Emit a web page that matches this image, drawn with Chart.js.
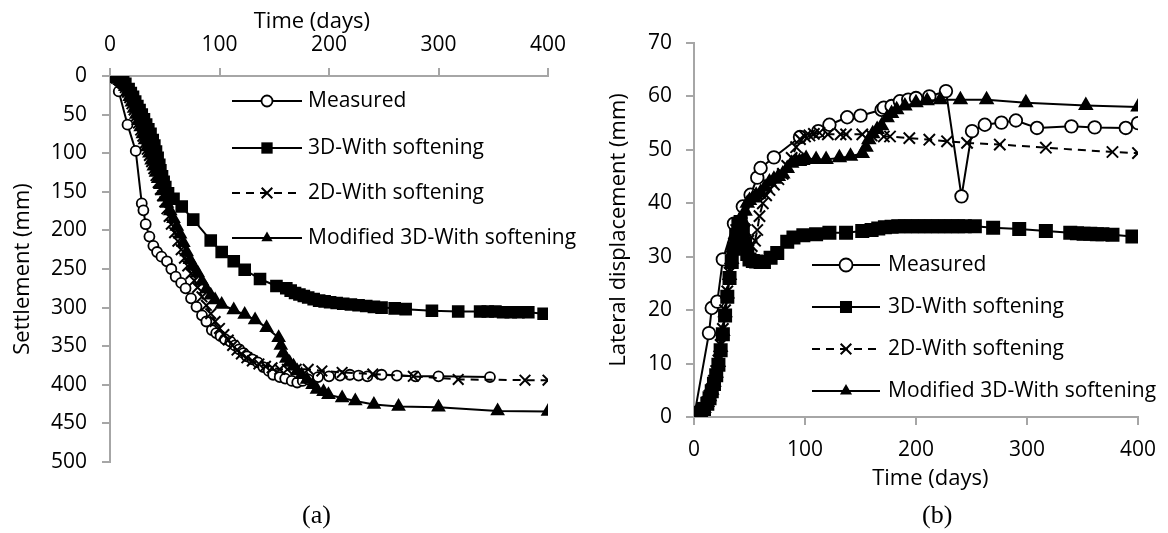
<!DOCTYPE html>
<html lang="en">
<head>
<meta charset="UTF-8">
<title>Settlement and lateral displacement</title>
<style>
  body { margin: 0; background: #fff; }
  .wrap { position: relative; width: 1168px; height: 533px; }
  .box { position: absolute; top: 0; width: 584px; height: 533px; }
  .cap { position: absolute; font-family: "Liberation Serif", serif; font-size: 26px; line-height: 1; color: #000; }
</style>
</head>
<body>
<div class="wrap">
  <div class="box" style="left:0"><canvas id="chartA"></canvas></div>
  <div class="box" style="left:584px"><canvas id="chartB"></canvas></div>
  <div class="cap" style="left:302px;top:502px">(a)</div>
  <div class="cap" style="left:922px;top:502px">(b)</div>
</div>
<script src="https://cdn.jsdelivr.net/npm/chart.js"></script>
<script>
const seriesNames = ['Measured', '3D-With softening', '2D-With softening', 'Modified 3D-With softening']

// (a) settlement (mm) vs time (days)
const tMeasA = [0, 3, 8, 16, 23.5, 29, 30.5, 32.6, 36, 39.6, 43, 47, 52, 56, 60, 65, 69, 74, 79, 84, 88, 93, 97, 101, 105, 110, 114, 118, 122, 125, 130, 135, 140, 145, 149, 155, 160, 166, 171, 176, 181, 190, 200, 210, 219, 227, 235, 248, 262, 279, 300, 347]
const sMeasA = [0, 2, 20, 63, 97, 165, 174, 192, 208, 220, 228, 234, 240, 250, 260, 268, 275, 288, 299, 310, 318, 329, 333, 337, 341, 344, 349, 354, 359, 363, 367, 371, 377, 382, 387, 390, 392, 395, 397, 395, 393, 390, 389, 388, 387, 388, 389, 387, 388, 389, 389, 390]

const t3dA = [0, 3, 6, 9, 12, 14, 17, 19, 21, 23, 25, 27, 29, 31, 33, 35, 37, 39, 40.5, 42, 43.5, 45, 46, 47.5, 49, 50.5, 53, 58, 65.5, 76, 92, 102, 113, 123, 137, 152, 161, 165, 169, 173, 177, 181, 186, 191, 196, 201, 207, 213, 220, 227, 234, 241, 248, 260, 270, 294, 318, 338, 345, 352, 359, 366, 373, 382, 396]
const s3dA = [0, 0, 1, 3, 6, 10, 17, 22, 27, 33, 39, 44, 50, 56, 63, 69, 75, 83, 90, 98, 106, 115, 122, 130, 137, 144, 152, 159, 169, 186, 213, 228, 240, 251, 263, 272, 275, 278, 281, 283, 285, 287, 289, 291, 292, 293, 294, 295, 296, 297, 298, 299, 300, 301, 302, 304, 305, 305, 305, 305, 306, 306, 306, 306, 308]

const t2dA = [0, 3, 6, 9, 12, 14, 16, 18, 20, 22, 24, 26, 28, 30, 32, 34, 36, 38, 40, 42, 44, 46, 48, 50, 52, 54, 56, 59, 62, 65, 68, 71, 74, 77, 80, 84, 88, 92, 96, 100, 104, 108, 112, 116, 120, 125, 130, 136, 142, 148, 155, 162, 170, 181, 193.5, 212, 240, 277, 318, 379, 400]
const s2dA = [0, 1, 3, 6, 10, 15, 21, 28, 36, 44, 52, 61, 70, 78, 87, 95, 103, 111, 120, 129, 138, 147, 155, 163, 172, 182, 192, 203, 214, 225, 236, 246, 256, 265, 274, 286, 297, 308, 318, 327, 335, 342, 349, 355, 360, 365, 369, 373, 376, 378, 380, 380, 380, 380, 382, 384, 386, 389, 393, 394, 394]

const tModA = [0, 3, 6, 9, 12, 14, 16, 18, 20, 22, 24, 26, 28, 30, 32, 34, 36, 38, 40, 42, 44, 46, 48, 50, 52, 55, 58, 61, 64, 67, 70, 73, 76, 80, 84, 88, 92, 96, 102, 113, 123, 132.5, 143, 154, 156, 158, 161, 164, 167.6, 171, 175, 180, 185, 189, 195, 199.5, 212, 224, 241, 263.5, 300, 354, 400]
const sModA = [0, 1, 3, 6, 10, 14, 20, 27, 34, 42, 50, 58, 66, 75, 83, 92, 100, 109, 117, 125, 133, 141, 149, 157, 165, 175, 185, 195, 205, 216, 228, 238, 246, 255, 266, 276, 284, 290, 296, 303, 309, 316, 326, 339, 349, 359, 366, 371, 376, 382, 387, 393, 400, 406, 409, 413, 417, 421, 425.6, 428, 429, 434, 434.5]

// (b) lateral displacement (mm) vs time (days)
const tMeasB = [0, 13.5, 16, 21, 26, 36, 44, 51, 57, 60, 72, 95.5, 112, 122, 138, 150, 169, 171, 178, 185.5, 193, 200, 212, 227, 241, 250.5, 262, 277, 290, 309, 340, 361, 389, 400]
const dMeasB = [0, 15.7, 20.4, 21.6, 29.5, 36.2, 39.4, 41.6, 44.8, 46.6, 48.6, 52.4, 53.5, 54.7, 56.1, 56.4, 57.5, 57.9, 58.2, 59.1, 59.4, 59.7, 60, 61, 41.3, 53.5, 54.7, 55.1, 55.5, 54.1, 54.4, 54.2, 54.1, 55]

const t3dB = [0, 3, 6, 9, 12, 14, 16, 18, 20, 22, 24, 26, 28, 30, 32, 34, 36, 38, 40, 42, 44, 46, 48, 50, 53, 56, 60, 63, 69, 75, 84, 89.6, 98.5, 110, 122, 137, 151.6, 160, 166, 172, 178, 184, 190, 196, 202, 208, 214, 220, 226, 232, 238, 244, 253, 269.5, 293, 317, 339, 345, 351, 357, 363, 368, 377, 395]
const d3dB = [0, 0.3, 0.8, 1.5, 2.5, 3.5, 4.8, 6.2, 7.8, 9.8, 12.5, 15.5, 19, 22.5, 26, 29, 31.5, 34, 36, 36.5, 35, 32.5, 30.5, 29.5, 29.2, 29.1, 29, 29, 29.8, 30.7, 32.8, 33.6, 34, 34.2, 34.5, 34.5, 34.8, 35, 35.3, 35.5, 35.6, 35.7, 35.7, 35.7, 35.7, 35.7, 35.7, 35.7, 35.7, 35.7, 35.7, 35.7, 35.7, 35.4, 35.2, 34.8, 34.5, 34.4, 34.3, 34.3, 34.2, 34.2, 34.1, 33.8]

const t2dB = [0, 3, 6, 9, 12, 14, 16, 18, 20, 22, 24, 26, 28, 30, 32, 34, 36, 38, 40, 43, 46, 49, 52, 55, 57, 59, 62, 65, 68, 72, 76, 80, 84, 88, 92, 95.5, 100, 104, 108, 113, 120.6, 132, 137, 151.6, 160, 171, 176.6, 194, 212, 228, 246, 275.5, 317, 377, 400]
const d2dB = [0, 0.3, 0.9, 1.7, 2.8, 4, 5.2, 6.8, 8.6, 10.6, 13.5, 16.5, 20, 23.5, 27, 30, 32.5, 35, 36.3, 36.3, 35, 33, 32, 33, 35, 37.6, 40, 41.5, 42.5, 43.5, 44.5, 45.5, 47, 48.5, 50.5, 52, 52.5, 52.7, 53, 53.2, 52.9, 52.9, 52.9, 52.9, 52.7, 52.5, 52.5, 52.2, 51.9, 51.6, 51.3, 51, 50.4, 49.6, 49.4]

const tModB = [0, 3, 6, 9, 12, 14, 16, 18, 20, 22, 24, 26, 28, 30, 32, 34, 36, 38, 40, 43, 46, 48, 50, 53, 56, 60, 64, 68, 72, 76, 80, 84, 88, 92, 95, 98, 101, 110, 119, 131, 141, 151.6, 155, 157.5, 161, 165, 169, 174, 178, 182.6, 190, 200, 210, 222, 240, 263.6, 299, 353, 400]
const dModB = [0, 0.3, 0.8, 1.6, 2.7, 3.8, 5, 6.5, 8.2, 10.2, 13, 16, 19.5, 23, 26.5, 29.5, 32, 34.5, 36, 37, 38.5, 40, 40.5, 41, 41.5, 42, 43, 44, 44.5, 45, 45.5, 46.5, 47.5, 47.8, 47.8, 48, 48.4, 48.2, 48.2, 48.5, 48.8, 49.3, 50.5, 51.9, 53, 53.8, 54.5, 56, 56.8, 57.5, 58.2, 58.8, 59.2, 59.4, 59.4, 59.4, 58.8, 58.3, 58]

const timeTicks = [0, 100, 200, 300, 400]

Chart.defaults.font.family = "'Open Sans', sans-serif"
Chart.defaults.font.size = 21
Chart.defaults.color = '#000'

const axisGrey = '#a6a6a6'

function pts(xs, ys) {
  return xs.map((x, i) => ({ x: x, y: ys[i] }))
}

// marker styles, one per series: circle / square / cross / triangle
function makeSets(series, sizes) {
  const styles = [
    { pointStyle: 'circle', pointBackgroundColor: '#fff', borderDash: [] },
    { pointStyle: 'rect', pointBackgroundColor: '#000', borderDash: [] },
    { pointStyle: 'crossRot', pointBackgroundColor: '#000', borderDash: [8, 6] },
    { pointStyle: 'triangle', pointBackgroundColor: '#000', borderDash: [] }
  ]
  return series.map((s, i) => ({
    label: seriesNames[i],
    data: pts(s[0], s[1]),
    showLine: true,
    borderColor: '#000',
    borderWidth: 2,
    borderDash: styles[i].borderDash,
    pointStyle: styles[i].pointStyle,
    pointBackgroundColor: styles[i].pointBackgroundColor,
    pointBorderColor: '#000',
    pointBorderWidth: i === 0 ? 1.8 : 2,
    pointRadius: sizes[i],
    tension: 0,
    order: 3 - i
  }))
}

function drawMarker(ctx, style, x, y, r, fill) {
  ctx.beginPath()
  if (style === 'circle') {
    ctx.arc(x, y, r, 0, Math.PI * 2)
    ctx.fillStyle = fill
    ctx.fill()
    ctx.lineWidth = 1.8
    ctx.stroke()
  } else if (style === 'rect') {
    const h = r * Math.SQRT1_2
    ctx.fillStyle = fill
    ctx.fillRect(x - h, y - h, 2 * h, 2 * h)
  } else if (style === 'triangle') {
    for (let k = 0; k < 3; k++) {
      const a = -Math.PI / 2 + k * 2 * Math.PI / 3
      const px = x + Math.cos(a) * r, py = y + Math.sin(a) * r
      if (k === 0) ctx.moveTo(px, py); else ctx.lineTo(px, py)
    }
    ctx.closePath()
    ctx.fillStyle = fill
    ctx.fill()
  } else if (style === 'crossRot') {
    const h = r * Math.SQRT1_2
    ctx.lineWidth = 2
    ctx.moveTo(x - h, y - h); ctx.lineTo(x + h, y + h)
    ctx.moveTo(x - h, y + h); ctx.lineTo(x + h, y - h)
    ctx.stroke()
  }
}

// legend drawn inside the plot, like the original figure
const insideLegend = {
  id: 'insideLegend',
  afterDraw(chart, args, opts) {
    const ctx = chart.ctx
    ctx.save()
    chart.data.datasets.forEach((ds, i) => {
      const y = opts.rows[i]
      ctx.strokeStyle = '#000'
      ctx.lineWidth = 2
      ctx.setLineDash(ds.borderDash)
      ctx.beginPath()
      ctx.moveTo(opts.x0, y)
      ctx.lineTo(opts.x1, y)
      ctx.stroke()
      ctx.setLineDash([])
      drawMarker(ctx, ds.pointStyle, (opts.x0 + opts.x1) / 2, y, opts.sizes[i], ds.pointBackgroundColor)
      ctx.fillStyle = '#000'
      ctx.font = "21px 'Open Sans', sans-serif"
      ctx.textBaseline = 'middle'
      ctx.textAlign = 'left'
      ctx.fillText(ds.label, opts.textX, y)
    })
    ctx.restore()
  }
}

function axisBase(extra) {
  return Object.assign({
    type: 'linear',
    grid: { drawOnChartArea: false, tickLength: 8, color: axisGrey, lineWidth: 2 },
    border: { color: axisGrey, width: 2 }
  }, extra)
}

// chart (a)
new Chart(document.getElementById('chartA'), {
  type: 'scatter',
  data: {
    datasets: makeSets([[tMeasA, sMeasA], [t3dA, s3dA], [t2dA, s2dA], [tModA, sModA]], [5, 7.5, 7.5, 6.5])
  },
  options: {
    responsive: true,
    maintainAspectRatio: false,
    animation: false,
    events: [],
    layout: { padding: { top: 0, right: 36, bottom: 71, left: 0 } },
    plugins: {
      legend: { display: false },
      tooltip: { enabled: false },
      insideLegend: { x0: 232, x1: 302, textX: 308, rows: [101, 148, 193, 238], sizes: [5.5, 8, 7.5, 6.5] }
    },
    scales: {
      x: axisBase({
        position: 'top', min: 0, max: 400,
        afterBuildTicks: s => { s.ticks = timeTicks.map(v => ({ value: v })) },
        ticks: { padding: 10 },
        title: { display: true, text: 'Time (days)      ', font: { size: 22 }, padding: { top: 9, bottom: 0 } },
        afterFit: s => { s.height = 76 }
      }),
      y: axisBase({
        reverse: true, min: 0, max: 500,
        ticks: { stepSize: 50, padding: 15 },
        title: { display: true, text: 'Settlement (mm)', font: { size: 22 }, padding: { top: 10, bottom: 0 } },
        afterFit: s => { s.width = 110 }
      })
    }
  },
  plugins: [insideLegend]
})

// chart (b)
new Chart(document.getElementById('chartB'), {
  type: 'scatter',
  data: {
    datasets: makeSets([[tMeasB, dMeasB], [t3dB, d3dB], [t2dB, d2dB], [tModB, dModB]], [6.3, 8.5, 8, 7])
  },
  options: {
    responsive: true,
    maintainAspectRatio: false,
    animation: false,
    events: [],
    layout: { padding: { top: 43, right: 23, bottom: 41, left: 0 } },
    plugins: {
      legend: { display: false },
      tooltip: { enabled: false },
      insideLegend: { x0: 228, x1: 296, textX: 304, rows: [265, 307, 349, 391], sizes: [6.5, 8.5, 7.5, 7] }
    },
    scales: {
      x: axisBase({
        position: 'bottom', min: 0, max: 400,
        afterBuildTicks: s => { s.ticks = timeTicks.map(v => ({ value: v })) },
        ticks: { padding: 12 },
        title: { display: true, text: '     Time (days)', font: { size: 22 }, padding: { top: 0, bottom: 0 } },
        afterFit: s => { s.height = 75 }
      }),
      y: axisBase({
        min: 0, max: 70,
        ticks: { stepSize: 10, padding: 14 },
        title: { display: true, text: 'Lateral displacement (mm)', font: { size: 22 }, padding: { top: 22, bottom: 0 } },
        afterFit: s => { s.width = 110 }
      })
    }
  },
  plugins: [insideLegend]
})
</script>
</body>
</html>
